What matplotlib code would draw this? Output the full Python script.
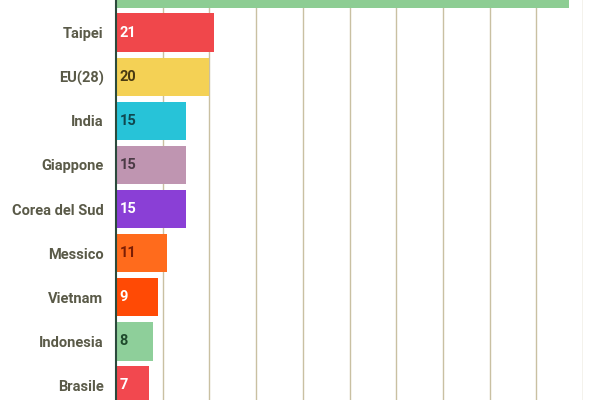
import matplotlib.pyplot as plt

# dati (il primo paese è tagliato in alto nell'immagine)
paesi = ['Cina', 'Taipei', 'EU(28)', 'India', 'Giappone', 'Corea del Sud',
         'Messico', 'Vietnam', 'Indonesia', 'Brasile']
valori = [97, 21, 20, 15, 15, 15, 11, 9, 8, 7]
colori = ['#8dcd93', '#f0474b', '#f4d155', '#27c3d8', '#bf95b1', '#8a3fd6',
          '#ff6b1c', '#ff4a05', '#8ecf9a', '#f2484f']
colori_testo = ['#1f4a2c', '#ffffff', '#4a3b12', '#10474f', '#4a3a45', '#ffffff',
                '#7a1e05', '#ffffff', '#1f4a2c', '#ffffff']

plt.rcParams['font.family'] = ['Roboto', 'DejaVu Sans']

fig = plt.figure(figsize=(6, 4), dpi=100)
fig.patch.set_facecolor('white')
# l'asse sborda dalla figura: il grafico originale è ritagliato sopra e sotto
ax = fig.add_axes([116 / 600, -7.5 / 400, (583 - 116) / 600, 441 / 400])

pos = list(range(len(paesi)))
ax.barh(pos, valori, height=0.87, color=colori, zorder=2)

for i, v in enumerate(valori):
    ax.text(0.8, i, str(v), va='center', ha='left', fontsize=10.5,
            fontweight='bold', color=colori_testo[i], zorder=3)

ax.set_xlim(0, 100)
ax.set_ylim(len(paesi) - 0.5, -0.5)
ax.set_yticks(pos)
ax.set_yticklabels(paesi, fontsize=10.5, fontweight='bold', color='#5a5a48')
ax.tick_params(axis='y', length=0, pad=9)
ax.set_xticks(range(10, 101, 10))
ax.tick_params(axis='x', length=0, labelbottom=False)
ax.grid(axis='x', color='#c9c0a2', linewidth=1, zorder=0)

ax.spines['top'].set_visible(False)
ax.spines['right'].set_visible(False)
ax.spines['bottom'].set_visible(False)
ax.spines['left'].set_color('#2b4a3c')
ax.spines['left'].set_linewidth(1.5)
ax.spines['left'].set_zorder(4)

fig.savefig('out.png', dpi=100)
